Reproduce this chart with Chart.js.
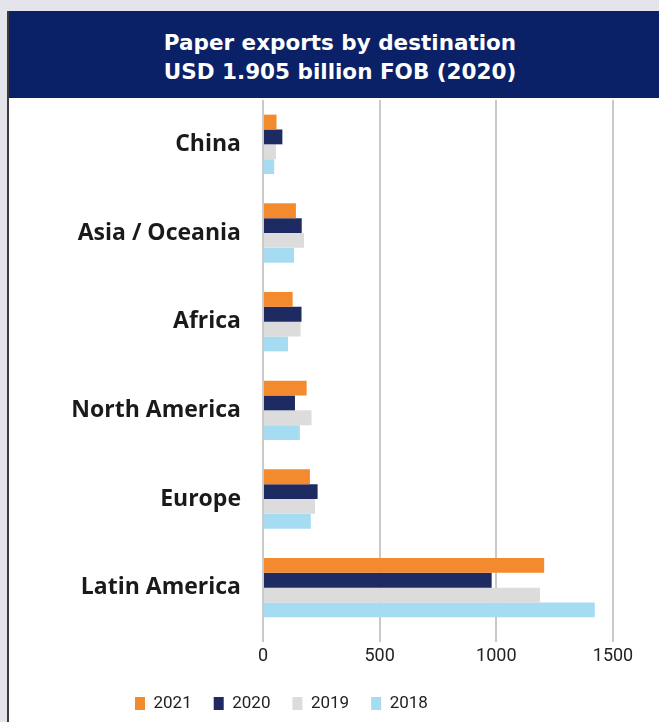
<!DOCTYPE html>
<html>
<head>
<meta charset="utf-8">
<script src="https://cdn.jsdelivr.net/npm/chart.js@4"></script>
<style>
  body { margin: 0; background: #e4e5ea; overflow: hidden; width: 659px; height: 722px; position: relative; }
  #frame { position: absolute; left: 7px; top: 11px; width: 662px; height: 720px; background: #fff; border-left: 2px solid #3c3c3c; }
  #header { position: absolute; left: 0; top: 0; width: 662px; height: 87px; background: #0b2167; color: #fff;
    font: bold 21.5px "DejaVu Sans", sans-serif; text-align: center; line-height: 29px; padding-top: 17px; box-sizing: border-box; }
  #chart { position: absolute; left: 10px; top: 98px; }
</style>
</head>
<body>
<div id="frame"><div id="header">Paper exports by destination<br>USD 1.905 billion FOB (2020)</div></div>
<canvas id="chart" width="649" height="624"></canvas>
<script>
  const categories = ['China', 'Asia / Oceania', 'Africa', 'North America', 'Europe', 'Latin America'];
  const years = ['2021', '2020', '2019', '2018'];
  const values2021 = [58, 141, 127, 187, 201, 1205];
  const values2020 = [83, 166, 165, 137, 234, 980];
  const values2019 = [56, 176, 161, 208, 223, 1187];
  const values2018 = [48, 133, 107, 158, 205, 1422];
  const xTicks = [0, 500, 1000, 1500];

  const colors = ['#f38a2e', '#1e2b62', '#dcdcdc', '#a6dcf2'];
  const series = [values2021, values2020, values2019, values2018];

  // legend sits left of centre in the original, so nudge it after layout
  const legendShift = {
    id: 'legendShift',
    afterLayout(chart) {
      chart.legend.left += 103
    }
  };

  new Chart(document.getElementById('chart'), {
    type: 'bar',
    data: {
      labels: categories,
      datasets: series.map((vals, i) => ({
        label: years[i],
        data: vals,
        backgroundColor: colors[i],
        categoryPercentage: 0.67,
        barPercentage: 1
      }))
    },
    plugins: [legendShift],
    options: {
      indexAxis: 'y',
      responsive: false,
      animation: false,
      layout: { padding: { left: 0, right: 46, top: 2, bottom: 0 } },
      scales: {
        x: {
          min: xTicks[0],
          max: xTicks[xTicks.length - 1],
          afterBuildTicks: axis => { axis.ticks = xTicks.map(v => ({ value: v })) },
          afterFit: axis => { axis.height = 41 },
          border: { display: false },
          grid: { color: '#c9c9c9', lineWidth: 2, tickLength: 10 },
          ticks: { padding: 4, color: '#222', font: { family: 'Roboto', size: 18 }, callback: v => String(v) }
        },
        y: {
          afterFit: axis => {
            axis.width = 253
            axis.paddingTop = 0
            axis.paddingBottom = 0
          },
          border: { display: false },
          grid: { display: false, drawTicks: false },
          ticks: { padding: 22, color: '#1a1a1a', font: { family: '"Open Sans"', size: 23, weight: 'bold' } }
        }
      },
      plugins: {
        tooltip: { enabled: false },
        legend: {
          position: 'bottom',
          align: 'start',
          labels: {
            boxWidth: 10,
            boxHeight: 13,
            padding: 22,
            color: '#222',
            font: { family: 'Roboto', size: 17 }
          }
        }
      }
    }
  });
</script>
</body>
</html>
